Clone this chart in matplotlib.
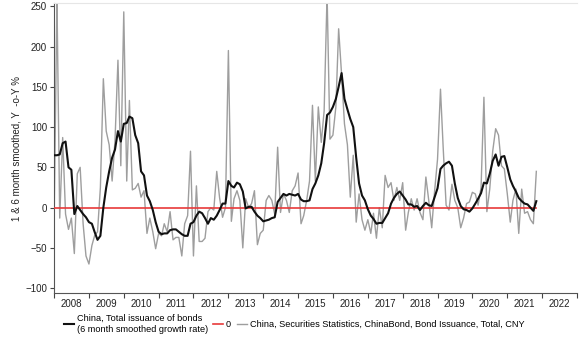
import numpy as np
import pandas as pd
import matplotlib
matplotlib.use("Agg")
import matplotlib.pyplot as plt

plt.rcParams['font.family'] = ['Liberation Sans', 'DejaVu Sans']

# Monthly observations, Jan 2008 - Nov 2021
months = pd.date_range("2008-01-01", periods=167, freq="MS")

# 6 month smoothed growth rate of total bond issuance (% y/y)
smoothed = [
    65, 65, 66, 80, 82, 50, 47, -8, 2, -3, -8, -12,
    -18, -20, -30, -40, -35, 0, 25, 45, 62, 72, 95, 82,
    104, 105, 113, 111, 90, 80, 45, 40, 15, 8, -3, -18,
    -30, -33, -32, -32, -28, -27, -27, -30, -33, -35, -35, -20,
    -18, -10, -5, -7, -13, -20, -13, -15, -10, -3, 5, 5,
    33, 27, 25, 31, 29, 20, -1, 1, 1, -5, -10, -13,
    -17, -16, -15, -13, -12, 7, 12, 17, 15, 17, 16, 15,
    17, 10, 8, 8, 9, 23, 30, 40, 55, 80, 115, 118,
    125, 135, 150, 167, 135, 122, 110, 100, 62, 30, 15, 9,
    -2, -10, -14, -20, -19, -19, -13, -7, 5, 12, 17, 20,
    15, 10, 4, 4, 1, 2, -3, 2, 6, 3, 2, 13,
    24, 48, 52, 55, 57, 52, 30, 12, 2, -2, -3, -5,
    -1, 5, 11, 18, 31, 30, 42, 58, 66, 52, 63, 64,
    50, 35, 27, 20, 12, 8, 5, 4, 0, -4, 8,
]

# Raw monthly growth rate of ChinaBond total issuance (% y/y)
raw = [
    -28, 260, -13, 87, -8, -27, -13, -57, 42, 50, -20, -60,
    -70, -47, -35, -30, 25, 160, 95, 78, 33, 83, 183, 52,
    243, 33, 133, 22, 24, 30, 13, 21, -32, -13, -30, -51,
    -32, -35, -20, -30, -5, -40, -37, -37, -60, -20, -10, 70,
    -60, 27, -42, -42, -38, -5, 0, -3, 45, 12, -12, 0,
    195, -17, 11, 21, 9, -50, 11, 0, 5, 21, -46, -32,
    -28, 9, 15, 9, -8, 75, -6, 17, 9, -6, 21, 27,
    43, -20, -10, 9, 33, 127, 33, 125, 81, 120, 265, 85,
    90, 125, 222, 165, 104, 78, 13, 65, -18, 17, -15, -28,
    -15, -32, -7, -38, 0, -25, 40, 25, 31, 9, 25, 9,
    31, -28, -6, 11, -3, 11, -6, -15, 38, 9, -25, 20,
    60, 147, 75, 3, -3, 29, 9, 0, -25, -13, 5, 7,
    19, 17, 3, 25, 137, -5, 23, 70, 98, 90, 52, 48,
    17, -18, 9, 23, -32, 23, -7, -5, -15, -20, 45,
]

zero = [0] * len(months)

years = list(range(2008, 2023))

fig = plt.figure(figsize=(5.8, 3.38), dpi=100)
ax = fig.add_axes([0.0931, 0.1331, 0.9017, 0.858])

ax.plot(months, raw, color="#9e9e9e", lw=1.0, zorder=2)
ax.plot(months, zero, color="#e8393a", lw=1.2, zorder=3)
ax.plot(months, smoothed, color="#111111", lw=1.5, zorder=4)

ax.set_ylim(-106, 254)
ax.set_xlim(pd.Timestamp("2008-01-01"), pd.Timestamp("2023-01-01"))
ax.set_yticks(np.arange(-100, 251, 50))

# year boundaries as ticks, year names centred between them
ax.set_xticks([pd.Timestamp(f"{y}-01-01") for y in years + [2023]])
ax.xaxis.set_major_formatter(plt.NullFormatter())
ax.set_xticks([pd.Timestamp(f"{y}-07-01") for y in years], minor=True)
ax.set_xticklabels([str(y) for y in years], minor=True)
ax.tick_params(axis="x", which="minor", length=0, pad=4, labelsize=7,
               labelcolor="#222222")
ax.tick_params(axis="x", which="major", length=3.5, width=0.8, color="#444444")
ax.tick_params(axis="y", length=3, width=0.8, color="#444444", labelsize=7,
               labelcolor="#222222", pad=2)

ax.spines["right"].set_visible(False)
ax.spines["top"].set_color("#e6e6e6")
ax.spines["left"].set_color("#555555")
ax.spines["bottom"].set_color("#555555")

ax.set_ylabel("1 & 6 month smoothed, Y  -o-Y %", fontsize=7, color="#222222",
              labelpad=3)

handles = [
    plt.Line2D([], [], color="#111111", lw=1.5),
    plt.Line2D([], [], color="#e8393a", lw=1.2),
    plt.Line2D([], [], color="#9e9e9e", lw=1.0),
]
labels = [
    "China, Total issuance of bonds\n(6 month smoothed growth rate)",
    "0",
    "China, Securities Statistics, ChinaBond, Bond Issuance, Total, CNY",
]
fig.legend(handles, labels, loc="center left", bbox_to_anchor=(0.11, 0.042),
           ncol=3, frameon=False, fontsize=6.6, handlelength=1.1,
           handletextpad=0.3, columnspacing=0.6, labelspacing=0.1,
           borderaxespad=0, borderpad=0)

fig.savefig("out.png", dpi=100)
